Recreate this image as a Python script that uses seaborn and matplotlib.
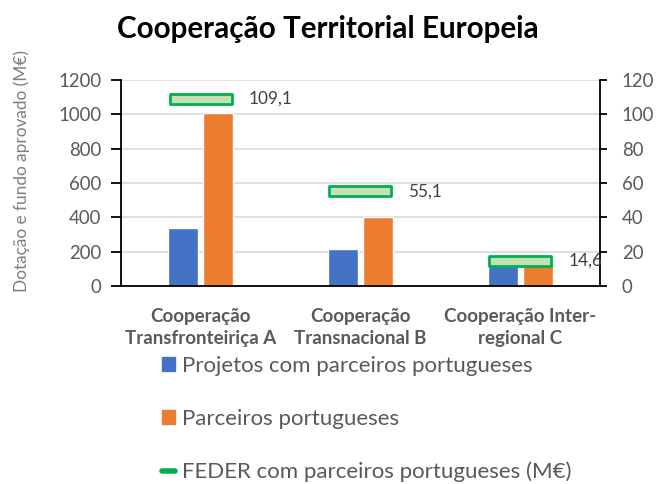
import numpy as np
import pandas as pd
import matplotlib
matplotlib.use('Agg')
import matplotlib.pyplot as plt
from matplotlib.path import Path
from matplotlib.lines import Line2D
import seaborn as sns

# dados
categorias = ['Cooperação\nTransfronteiriça A', 'Cooperação\nTransnacional B', 'Cooperação Inter-\nregional C']
projetos = [336, 214, 118]
parceiros = [1006, 404, 136]
feder = [109.1, 55.1, 14.6]
series = ['Projetos com parceiros portugueses', 'Parceiros portugueses']
legenda_feder = 'FEDER com parceiros portugueses (M€)'

df = pd.DataFrame({
    'categoria': categorias * 2,
    'serie': [series[0]] * 3 + [series[1]] * 3,
    'valor': projetos + parceiros,
})

sns.set_style('white')
plt.rcParams['font.family'] = ['Lato', 'DejaVu Sans']

cinza = '#595959'
fig = plt.figure(figsize=(6.56, 4.84), dpi=100)
ax = fig.add_axes([0.184, 0.409, 0.731, 0.426])

sns.barplot(data=df, x='categoria', y='valor', hue='serie', order=categorias,
            hue_order=series, palette=['#4472c4', '#ed7d31'], width=0.44, gap=0.14,
            saturation=1, ax=ax, legend=False, zorder=2)

ax.set_ylim(0, 1200)
ax.set_yticks(range(0, 1201, 200))
ax.set_xlabel('')
ax.set_ylabel('')
ax.yaxis.grid(True, color='#d9d9d9', lw=1.2, zorder=0)
ax.set_axisbelow(True)
for s in ['left', 'bottom']:
    ax.spines[s].set_color('black')
    ax.spines[s].set_linewidth(1.3)
ax.spines['top'].set_visible(False)
ax.spines['right'].set_visible(False)
ax.tick_params(axis='y', left=True, length=7, width=1.3, color='black', labelsize=13.4, labelcolor=cinza, pad=7)
ax.tick_params(axis='x', bottom=False, labelsize=13.5, labelcolor=cinza, pad=12)
for t in ax.get_xticklabels():
    t.set_fontweight('bold')
    t.set_linespacing(1.38)

# eixo secundário
ax2 = ax.twinx()
ax2.set_ylim(0, 120)
ax2.set_yticks(range(0, 121, 20))
ax2.spines['right'].set_color('black')
ax2.spines['right'].set_linewidth(1.3)
for s in ['left', 'top', 'bottom']:
    ax2.spines[s].set_visible(False)
ax2.tick_params(axis='y', right=True, length=5, width=1.3, color='black', labelsize=13.4, labelcolor=cinza, pad=10.5)

rect = Path([(-1, -0.17), (1, -0.17), (1, 0.17), (-1, 0.17), (-1, -0.17)],
            [Path.MOVETO, Path.LINETO, Path.LINETO, Path.LINETO, Path.CLOSEPOLY])
pos = np.arange(len(categorias))
sns.scatterplot(x=pos, y=feder, ax=ax2, marker=rect, s=2000, color='#c5e0b4',
                edgecolor='#00b050', linewidth=2, legend=False, zorder=3)
for x, v in zip(pos, feder):
    ax2.annotate(f'{v:.1f}'.replace('.', ','), (x, v), xytext=(34.5, 0), textcoords='offset points',
                 ha='left', va='center', fontsize=12.4, color='#404040')
ax.set_xlim(-0.5, len(categorias) - 0.5)

fig.suptitle('Cooperação Territorial Europeia', x=0.5, y=0.968, fontsize=21.3,
             fontweight='bold', color='black')
fig.text(22 / 656, 1 - 171 / 484, 'Dotação e fundo aprovado (M€)', rotation=90,
         ha='center', va='center', fontsize=12.4, color='#7f7f7f')

handles = [plt.Rectangle((0, 0), 1, 1, color='#4472c4'),
           plt.Rectangle((0, 0), 1, 1, color='#ed7d31'),
           Line2D([0], [0], color='#00b050', lw=4)]
fig.legend(handles, series + [legenda_feder], loc='upper left',
           bbox_to_anchor=(153 / 656, 1 - 347 / 484), frameon=False, fontsize=16,
           labelcolor=cinza, handlelength=0.6, handleheight=0.6, handletextpad=0.3,
           labelspacing=1.48, borderaxespad=0)

fig.savefig('out.png', dpi=100)
